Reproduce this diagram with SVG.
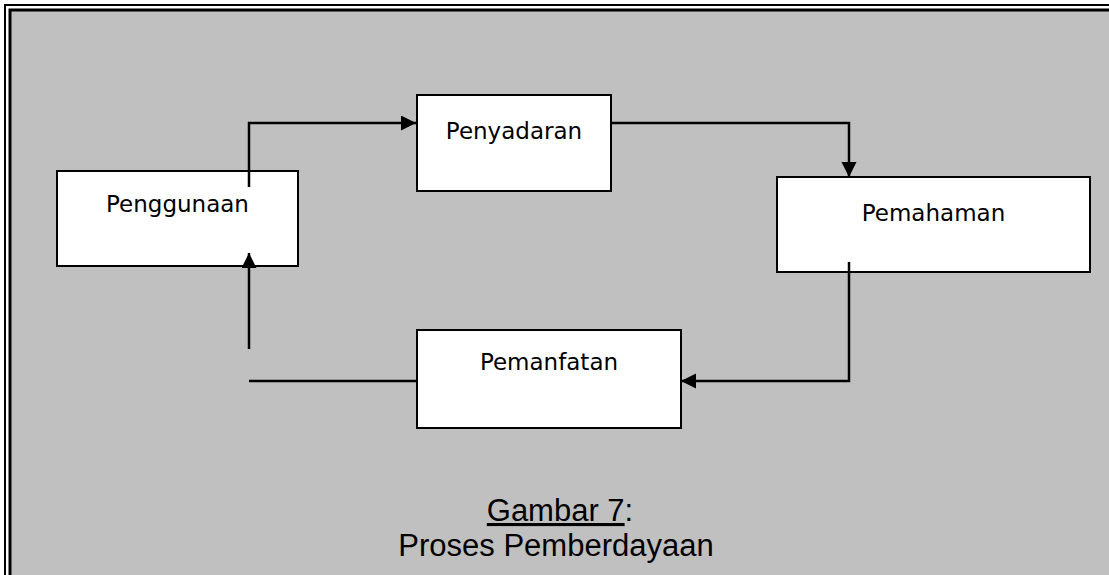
<svg xmlns="http://www.w3.org/2000/svg" width="1109" height="575" viewBox="0 0 1109 575">
  <style>
    .box { fill: #ffffff; stroke: #000000; stroke-width: 2; }
    .lbl { font-family: "Comic Sans MS", "DejaVu Sans", sans-serif; font-size: 23px; fill: #000000; text-anchor: middle; }
    .cap { font-family: "Liberation Sans", Arial, sans-serif; font-size: 31px; fill: #000000; text-anchor: middle; }
    .conn { fill: none; stroke: #000000; stroke-width: 2.5; }
  </style>
  <defs>
    <marker id="arrow" markerUnits="userSpaceOnUse" markerWidth="17" markerHeight="17" refX="15" refY="7.5" orient="auto">
      <path d="M0,0 L15,7.5 L0,15 z" fill="#000000"/>
    </marker>
  </defs>
  <rect x="0" y="0" width="1109" height="575" fill="#ffffff"/>
  <g id="frame">
    <rect x="5" y="5" width="1130" height="600" fill="#ffffff" stroke="#000000" stroke-width="2"/>
    <rect x="10" y="10" width="1130" height="600" fill="#c0c0c0" stroke="#000000" stroke-width="3"/>
  </g>
  <g id="node-penggunaan">
    <rect class="box" x="57" y="171" width="241" height="95"/>
    <text class="lbl" x="177.5" y="212">Penggunaan</text>
  </g>
  <g id="node-penyadaran">
    <rect class="box" x="417" y="95" width="194" height="96"/>
    <text class="lbl" x="514" y="139">Penyadaran</text>
  </g>
  <g id="node-pemahaman">
    <rect class="box" x="777" y="177" width="313" height="95"/>
    <text class="lbl" x="933.5" y="221">Pemahaman</text>
  </g>
  <g id="node-pemanfatan">
    <rect class="box" x="417" y="330" width="264" height="98"/>
    <text class="lbl" x="549" y="370">Pemanfatan</text>
  </g>
  <g id="connectors">
    <path class="conn" d="M249,187 V123 H416" marker-end="url(#arrow)"/>
    <path class="conn" d="M611,123 H849 V177" marker-end="url(#arrow)"/>
    <path class="conn" d="M849,262 V381 H681" marker-end="url(#arrow)"/>
    <path class="conn" d="M417,381 H249"/>
    <path class="conn" d="M249,349 V253" marker-end="url(#arrow)"/>
  </g>
  <g id="caption">
    <text class="cap" x="560" y="521"><tspan text-decoration="underline">Gambar 7</tspan>:</text>
    <text class="cap" x="556" y="556">Proses Pemberdayaan</text>
  </g>
</svg>
